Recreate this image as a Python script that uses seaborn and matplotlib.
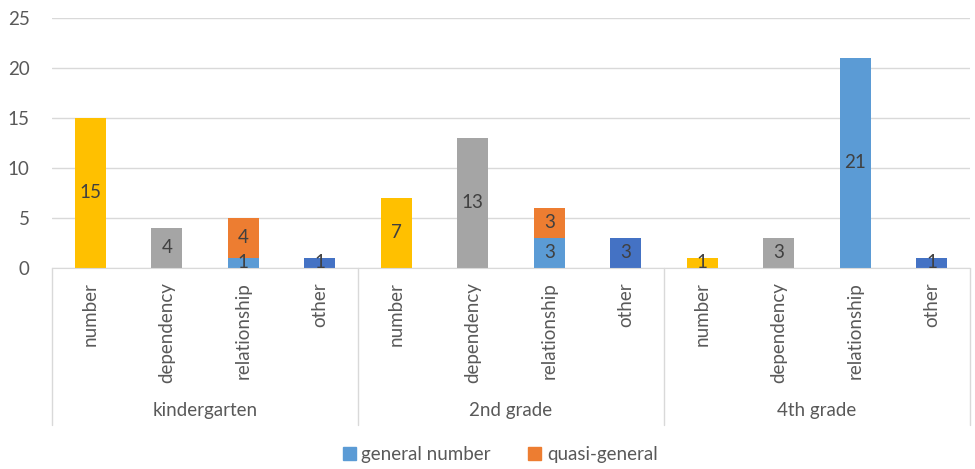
import numpy as np
import pandas as pd
import matplotlib.pyplot as plt
import seaborn as sns
from matplotlib.patches import Patch
from matplotlib.transforms import blended_transform_factory

# chart data
grades = ["kindergarten", "2nd grade", "4th grade"]
categories = ["number", "dependency", "relationship", "other"]
totals = [15, 4, 5, 1, 7, 13, 6, 3, 1, 3, 21, 1]
general_number = [0, 0, 1, 0, 0, 0, 3, 0, 0, 0, 21, 0]
quasi_general = [0, 0, 4, 0, 0, 0, 3, 0, 0, 0, 0, 0]

cat_colors = {"number": "#FFC000", "dependency": "#A5A5A5",
              "relationship": "#ED7D31", "other": "#4472C4"}
BLUE = "#5B9BD5"
ORANGE = "#ED7D31"
TEXT = "#595959"
FS = 13.5

sns.set_style("white")
plt.rcParams["font.family"] = ["Lato", "DejaVu Sans"]

df = pd.DataFrame({
    "slot": np.arange(len(totals)),
    "grade": np.repeat(grades, len(categories)),
    "category": categories * len(grades),
    "total": totals,
    "general": general_number,
    "quasi": quasi_general,
})

fig = plt.figure(figsize=(9.75, 4.69), dpi=100)
ax = fig.add_axes([0.0533, 0.4286, 0.9416, 0.533])

sns.barplot(data=df, x="slot", y="total", hue="category", palette=cat_colors,
            dodge=False, width=0.4, errorbar=None, legend=False, ax=ax,
            order=list(df["slot"]), saturation=1, linewidth=0)
sns.barplot(data=df, x="slot", y="general", color=BLUE, width=0.4,
            errorbar=None, ax=ax, order=list(df["slot"]), saturation=1,
            linewidth=0)

# data labels
for i, row in df.iterrows():
    if row["category"] == "relationship":
        if row["general"] > 0:
            ax.text(i, row["general"] / 2, str(row["general"]), ha="center",
                    va="center", fontsize=FS, color="#404040")
        if row["quasi"] > 0:
            ax.text(i, row["general"] + row["quasi"] / 2, str(row["quasi"]),
                    ha="center", va="center", fontsize=FS, color="#404040")
    else:
        ax.text(i, row["total"] / 2, str(row["total"]), ha="center",
                va="center", fontsize=FS, color="#404040")

ax.set_xlim(-0.5, len(totals) - 0.5)
ax.set_ylim(0, 25)
ax.set_yticks(range(0, 26, 5))
ax.yaxis.grid(True, color="#D9D9D9", linewidth=1)
ax.set_axisbelow(True)
for s in ["top", "right", "left"]:
    ax.spines[s].set_visible(False)
ax.spines["bottom"].set_color("#D9D9D9")
ax.set_xlabel("")
ax.set_ylabel("")
ax.set_xticks(df["slot"])
ax.set_xticklabels(df["category"], rotation=90, fontsize=FS, color=TEXT)
ax.tick_params(axis="x", length=0, pad=10)
ax.tick_params(axis="y", length=0, pad=16, labelsize=FS, labelcolor=TEXT)

# group separators and labels
trans = blended_transform_factory(ax.transData, ax.transAxes)
for b in np.arange(-0.5, len(totals), len(categories)):
    ax.plot([b, b], [0, -0.63], transform=trans, color="#D9D9D9",
            linewidth=1, clip_on=False)
for g, name in enumerate(grades):
    ax.text(g * 4 + 1.5, -0.57, name, transform=trans, ha="center",
            va="center", fontsize=FS, color=TEXT)

handles = [Patch(color=BLUE, label="general number"),
           Patch(color=ORANGE, label="quasi-general")]
fig.legend(handles=handles, loc="center", bbox_to_anchor=(0.513, 0.03),
           ncol=2, frameon=False, fontsize=FS, handlelength=0.7,
           handleheight=0.7, handletextpad=0.3, columnspacing=2.0,
           labelcolor=TEXT)

fig.savefig("out.png", dpi=100)
